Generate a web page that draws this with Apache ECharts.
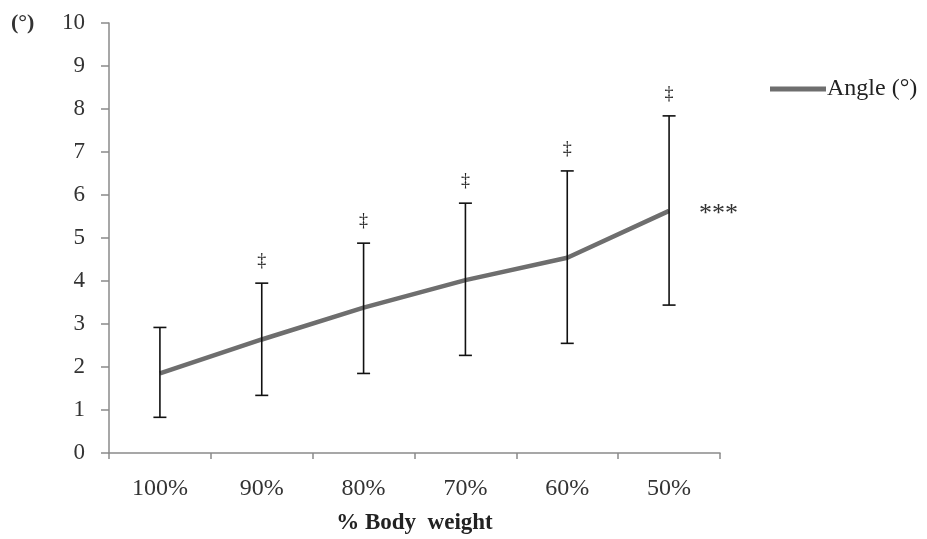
<!DOCTYPE html>
<html>
<head>
<meta charset="utf-8">
<script src="https://cdn.jsdelivr.net/npm/echarts@6/dist/echarts.min.js"></script>
<style>
html, body { margin: 0; padding: 0; background: #fff; }
#chart { width: 927px; height: 539px; }
</style>
</head>
<body>
<div id="chart"></div>
<script>
// Body-weight conditions on the x axis
const categories = ['100%', '90%', '80%', '70%', '60%', '50%'];
// Mean angle (degrees) per condition
const angleMean = [1.85, 2.64, 3.38, 4.02, 4.54, 5.63];
// Upper and lower ends of the error bars
const errorHigh = [2.92, 3.95, 4.88, 5.81, 6.56, 7.84];
const errorLow = [0.83, 1.34, 1.85, 2.27, 2.55, 3.44];
// Markers shown above each error bar and beside the last point
const daggerMarks = ['', '\u2021', '\u2021', '\u2021', '\u2021', '\u2021'];
const trendMarks = ['', '', '', '', '', '***'];
// Y axis range
const yMin = 0, yMax = 10, yStep = 1;

const serif = '"Liberation Serif", "Times New Roman", serif';
const axisGray = '#8a8a8a';

const chart = echarts.init(document.getElementById('chart'));

const errorData = categories.map((c, i) => [i, errorLow[i], errorHigh[i], angleMean[i]]);

chart.setOption({
  animation: false,
  backgroundColor: '#fff',
  grid: { left: 109, right: 207, top: 23, bottom: 86, containLabel: false, outerBoundsMode: 'none' },
  legend: {
    data: ['Angle (\u00b0)'],
    left: 765, top: 72,
    icon: 'rect',
    itemWidth: 56, itemHeight: 5, itemGap: 0,
    textStyle: { fontFamily: serif, fontSize: 24, color: '#222', padding: [0, 0, 0, -4] }
  },
  xAxis: {
    type: 'category',
    data: categories,
    boundaryGap: true,
    name: '% Body  weight',
    nameLocation: 'middle',
    nameGap: 59,
    nameTextStyle: { fontFamily: serif, fontSize: 23, fontWeight: 'bold', color: '#222' },
    axisLine: { lineStyle: { color: axisGray, width: 1.5 } },
    axisTick: { show: true, alignWithLabel: false, length: 6, lineStyle: { color: axisGray, width: 1.5 } },
    axisLabel: { fontFamily: serif, fontSize: 24, color: '#333', margin: 24 },
    splitLine: { show: false }
  },
  yAxis: {
    type: 'value',
    min: yMin, max: yMax, interval: yStep,
    axisLine: { show: true, lineStyle: { color: axisGray, width: 1.5 } },
    axisTick: { show: true, length: 8, lineStyle: { color: axisGray, width: 1.5 } },
    axisLabel: { fontFamily: serif, fontSize: 23, color: '#333', margin: 24 },
    splitLine: { show: false }
  },
  graphic: [{
    type: 'text', left: 11, top: 12,
    style: { text: '(\u00b0)', fontFamily: serif, fontSize: 22, fontWeight: 'bold', fill: '#333' }
  }],
  series: [
    {
      name: 'Angle (\u00b0)',
      type: 'line',
      data: angleMean,
      symbol: 'none',
      lineStyle: { color: '#6e6e6e', width: 4.5 },
      itemStyle: { color: '#6e6e6e' },
      z: 2
    },
    {
      type: 'custom',
      data: errorData,
      z: 5,
      renderItem: function (params, api) {
        const x = api.value(0);
        const lo = api.coord([x, api.value(1)]);
        const hi = api.coord([x, api.value(2)]);
        const mid = api.coord([x, api.value(3)]);
        const mark = daggerMarks[params.dataIndex];
        const trend = trendMarks[params.dataIndex];
        const half = 6.5;
        const st = { stroke: '#111', lineWidth: 1.6 };
        const children = [
          { type: 'line', shape: { x1: hi[0], y1: hi[1], x2: lo[0], y2: lo[1] }, style: st },
          { type: 'line', shape: { x1: hi[0] - half, y1: hi[1], x2: hi[0] + half, y2: hi[1] }, style: st },
          { type: 'line', shape: { x1: lo[0] - half, y1: lo[1], x2: lo[0] + half, y2: lo[1] }, style: st }
        ];
        if (mark) {
          children.push({
            type: 'text',
            style: {
              text: mark, x: hi[0], y: hi[1] - 22,
              align: 'center', verticalAlign: 'middle',
              fontFamily: serif, fontSize: 18, fill: '#222'
            }
          });
        }
        if (trend) {
          children.push({
            type: 'text',
            style: {
              text: trend, x: mid[0] + 30, y: mid[1] + 3,
              align: 'left', verticalAlign: 'middle',
              fontFamily: serif, fontSize: 26, fill: '#333'
            }
          });
        }
        return { type: 'group', children: children };
      }
    }
  ]
});
</script>
</body>
</html>
